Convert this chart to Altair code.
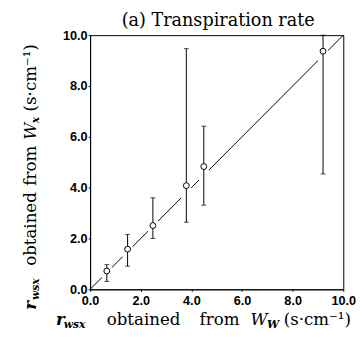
import altair as alt
import pandas as pd

# data
x_vals = [0.66, 1.48, 2.48, 3.80, 4.49, 9.20]
y_vals = [0.72, 1.58, 2.51, 4.08, 4.83, 9.37]
y_low = [0.31, 0.91, 2.00, 2.64, 3.31, 4.54]
y_high = [0.97, 2.16, 3.60, 9.47, 6.42, 10.0]
line_pts = [0.0, 10.0]
tick_values = [0, 2, 4, 6, 8, 10]

pts = pd.DataFrame({"x": x_vals, "y": y_vals, "lo": y_low, "hi": y_high})
line_df = pd.DataFrame({"x": line_pts, "y": line_pts})

xs = alt.Scale(domain=[0, 10], nice=False)
ys = alt.Scale(domain=[0, 10], nice=False)

xaxis = alt.Axis(values=tick_values, format=".1f", title=None, grid=False,
                 tickSize=2, labelPadding=4, labelFontSize=13, labelFontWeight="bold",
                 labelFont="Liberation Sans", labelColor="black", domainColor="black",
                 tickColor="black", labelFlush=False)
yaxis = alt.Axis(values=tick_values, format=".1f", title=None, grid=False,
                 tickSize=2, labelPadding=1, labelFontSize=13, labelFontWeight="bold",
                 labelFont="Liberation Sans", labelColor="black", domainColor="black",
                 tickColor="black", labelFlush=False)

base = alt.Chart(pts)

line = alt.Chart(line_df).mark_line(color="black", strokeWidth=1).encode(
    x=alt.X("x:Q", scale=xs, axis=xaxis),
    y=alt.Y("y:Q", scale=ys, axis=yaxis),
)

masks = base.mark_circle(color="white", opacity=1, size=210).encode(
    x=alt.X("x:Q", scale=xs), y=alt.Y("x:Q", scale=ys)
)

bars = base.mark_rule(color="black", strokeWidth=1).encode(
    x=alt.X("x:Q", scale=xs), y=alt.Y("lo:Q", scale=ys), y2="hi:Q"
)
cap_lo = base.mark_tick(orient="horizontal", size=5, thickness=1, color="black").encode(
    x=alt.X("x:Q", scale=xs), y=alt.Y("lo:Q", scale=ys)
)
cap_hi = base.mark_tick(orient="horizontal", size=5, thickness=1, color="black").encode(
    x=alt.X("x:Q", scale=xs), y=alt.Y("hi:Q", scale=ys)
)
circles = base.mark_point(shape="circle", filled=True, fill="white", stroke="black",
                          strokeWidth=1, opacity=1, size=36).encode(
    x=alt.X("x:Q", scale=xs), y=alt.Y("y:Q", scale=ys)
)

SERIF = "DejaVu Serif"
# (text, x, y, size, style, weight, angle, align)
texts = [
    ("(a)  Transpiration rate", 131, -9, 18, "normal", "normal", 0, "center"),
    # x-axis title
    ("r", -35, 296, 17, "italic", "bold", 0, "left"),
    ("wsx", -27, 300, 11, "italic", "bold", 0, "left"),
    ("obtained", 17, 296, 17, "normal", "normal", 0, "left"),
    ("from", 112, 296, 17, "normal", "normal", 0, "left"),
    ("W", 164, 296, 17, "italic", "normal", 0, "left"),
    ("W", 181, 300, 11, "italic", "bold", 0, "left"),
    ("(s·cm⁻¹)", 198, 296, 17, "normal", "normal", 0, "left"),
    # y-axis title (rotated)
    ("r", -55, 281, 17, "italic", "bold", 270, "left"),
    ("wsx", -52, 271, 11, "italic", "bold", 270, "left"),
    ("obtained", -55, 236, 17, "normal", "normal", 270, "left"),
    ("from", -55, 154, 17, "normal", "normal", 270, "left"),
    ("W", -55, 107, 17, "italic", "normal", 270, "left"),
    ("x", -52, 90, 11, "italic", "bold", 270, "left"),
    ("(s·cm⁻¹)", -55, 78, 17, "normal", "normal", 270, "left"),
]

text_layers = []
for t, px, py, fs, st, wt, ang, al in texts:
    text_layers.append(
        alt.Chart(pd.DataFrame({"t": [t]})).mark_text(
            font=SERIF, fontSize=fs, fontStyle=st, fontWeight=wt, angle=ang,
            align=al, baseline="alphabetic", color="black"
        ).encode(x=alt.value(px), y=alt.value(py), text="t:N")
    )

chart = alt.layer(line, masks, bars, cap_lo, cap_hi, circles, *text_layers).properties(
    width=259, height=260,
    autosize=alt.AutoSizeParams(type="none"),
    padding={"left": 84, "top": 24, "right": 13, "bottom": 45},
    background="white",
).configure_view(stroke="black", strokeWidth=1)

chart.save("out.html", embed_options={"renderer": "svg", "actions": False})
